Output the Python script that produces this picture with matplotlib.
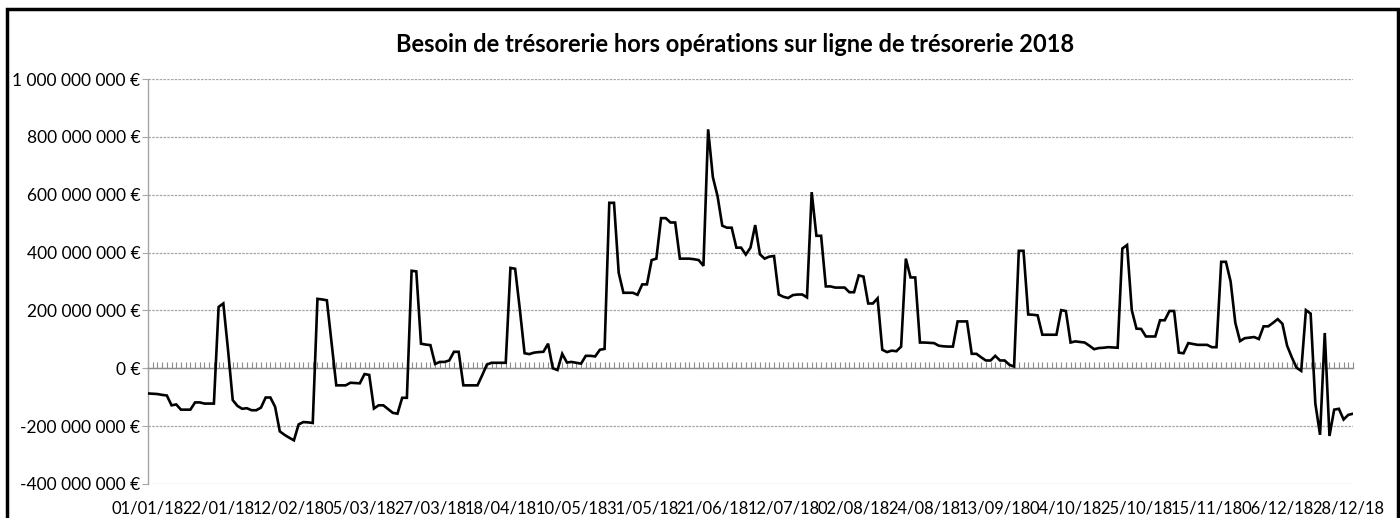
import matplotlib
matplotlib.use("Agg")
import matplotlib.pyplot as plt
from matplotlib.ticker import FuncFormatter, MultipleLocator
from matplotlib.patches import Rectangle

# Daily cash requirement (millions of euros), business days 2018
values_m = [
    -87, -88, -89, -92, -94, -128, -125, -143, -143, -143,
    -118, -118, -122, -122, -122, 212, 224, 64, -110, -130,
    -140, -138, -145, -145, -136, -101, -101, -133, -218, -230,
    -240, -249, -194, -186, -187, -189, 240, 238, 235, 87,
    -59, -59, -59, -50, -51, -52, -20, -23, -139, -128,
    -128, -141, -154, -157, -102, -102, 337, 335, 85, 82,
    80, 15, 22, 22, 27, 57, 57, -59, -59, -59,
    -59, -24, 13, 19, 19, 19, 19, 347, 344, 203,
    52, 49, 54, 56, 57, 85, 0, -6, 50, 20,
    22, 19, 16, 43, 43, 41, 64, 67, 572, 572,
    330, 261, 261, 261, 254, 290, 290, 374, 379, 519,
    519, 504, 504, 379, 379, 379, 377, 374, 354, 826,
    661, 595, 493, 486, 486, 417, 417, 393, 417, 495,
    394, 379, 386, 388, 255, 247, 243, 253, 255, 255,
    245, 609, 458, 458, 283, 283, 279, 279, 279, 263,
    263, 321, 317, 224, 224, 242, 64, 56, 61, 59,
    75, 379, 314, 314, 89, 89, 88, 87, 78, 76,
    75, 75, 162, 162, 162, 50, 50, 38, 27, 27,
    43, 27, 27, 12, 6, 406, 406, 186, 185, 183,
    116, 116, 116, 116, 201, 198, 89, 93, 91, 89,
    78, 66, 70, 71, 73, 72, 71, 414, 426, 201,
    137, 136, 110, 110, 110, 166, 166, 198, 198, 54,
    52, 87, 84, 81, 81, 81, 73, 73, 368, 368,
    300, 157, 94, 104, 106, 108, 101, 145, 145, 157,
    170, 154, 78, 38, 2, -9, 201, 189, -122, -230,
    122, -234, -143, -140, -177, -161, -157,
]
date_labels = ["01/01/18", "22/01/18", "12/02/18", "05/03/18", "27/03/18",
               "18/04/18", "10/05/18", "31/05/18", "21/06/18", "12/07/18",
               "02/08/18", "24/08/18", "13/09/18", "04/10/18", "25/10/18",
               "15/11/18", "06/12/18", "28/12/18"]
label_step = 15
title = "Besoin de trésorerie hors opérations sur ligne de trésorerie 2018"

values = [v * 1e6 for v in values_m]
idx = list(range(len(values)))

plt.rcParams['font.family'] = ['Lato', 'DejaVu Sans']

fig = plt.figure(figsize=(14, 5.18), dpi=100)
ax = fig.add_axes([148 / 1400, 1 - 484 / 518, (1353 - 148) / 1400, (484 - 79) / 518])

ax.plot(idx, values, color='black', lw=1.9, solid_joinstyle='miter', zorder=3)

ax.set_xlim(0, len(values) - 1)
ax.set_ylim(-400e6, 1000e6)
ax.yaxis.set_major_locator(MultipleLocator(200e6))


def fmt(v, pos):
    n = int(round(v))
    s = f"{abs(n):,}".replace(",", " ")
    return ("-" if n < 0 else "") + s + " €"


ax.yaxis.set_major_formatter(FuncFormatter(fmt))
ax.yaxis.grid(True, color='#a6a6a6', lw=0.9, ls=(0, (2, 1)))
ax.set_axisbelow(True)
ax.tick_params(axis='y', length=4, width=0.8, color='#a6a6a6', pad=1.5,
               labelsize=12.5, labelcolor='#000000')

for s in ['top', 'right']:
    ax.spines[s].set_visible(False)
ax.spines['left'].set_color('#a6a6a6')
ax.spines['left'].set_linewidth(1.0)

# category axis crossing at zero with a tick on each category
ax.spines['bottom'].set_position(('data', 0))
ax.spines['bottom'].set_color('#8c8c8c')
ax.spines['bottom'].set_linewidth(1.0)
ax.set_xticks(idx)
ax.tick_params(axis='x', direction='in', length=4, width=0.8, color='#8c8c8c',
               labelbottom=False)

sec = ax.secondary_xaxis('bottom')
sec.set_xticks(list(range(0, len(values), label_step))[:len(date_labels)])
sec.set_xticklabels(date_labels)
sec.tick_params(axis='x', length=0, pad=12, labelsize=11.9)
sec.spines['bottom'].set_visible(False)

fig.text(735 / 1400, 1 - 45 / 518, title, ha='center', va='center',
         fontsize=17, fontweight='bold')

fig.patches.append(Rectangle((7 / 1400, -0.05), (1398 - 7) / 1400, (1.05 - 9 / 518),
                             transform=fig.transFigure, fill=False,
                             edgecolor='black', lw=2.5))

fig.savefig('out.png', dpi=100)
